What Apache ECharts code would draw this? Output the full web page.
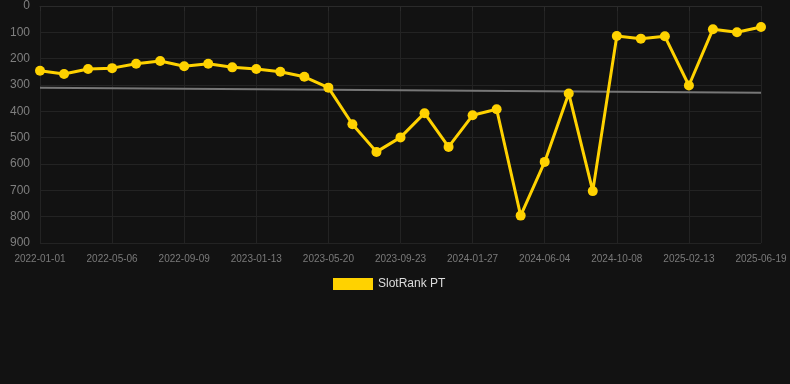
<!DOCTYPE html>
<html><head><meta charset="utf-8">
<script src="https://cdn.jsdelivr.net/npm/echarts@6/dist/echarts.min.js"></script>
<style>html,body{margin:0;padding:0;background:#121212;}#c{width:790px;height:384px;}</style>
</head><body><div id="c"></div>
<script>
const categories = ["2022-01-01","2022-02-12","2022-03-25","2022-05-06","2022-06-16","2022-07-28","2022-09-09","2022-10-21","2022-12-02","2023-01-13","2023-02-24","2023-04-07","2023-05-20","2023-07-01","2023-08-12","2023-09-23","2023-11-04","2023-12-16","2024-01-27","2024-03-09","2024-04-22","2024-06-04","2024-07-16","2024-08-27","2024-10-08","2024-11-19","2025-01-01","2025-02-13","2025-03-27","2025-05-08","2025-06-19"];
const rankValues = [246,258,239,236,219,209,229,219,233,239,250,269,310,449,554,499,407,535,415,392,796,592,332,703,114,124,115,302,88,100,80];
const trendLine = [310,329];
const yTicks = [0,100,200,300,400,500,600,700,800,900];

const chart = echarts.init(document.getElementById('c'));
chart.setOption({
  backgroundColor:'#121212',
  animation:false,
  grid:{left:40,right:29,top:6,bottom:141},
  legend:{top:273,left:328,itemWidth:40,itemHeight:12,itemGap:6,
    textStyle:{color:'#dddddd',fontSize:12,fontFamily:'Arial, Liberation Sans, sans-serif'},
    data:[{name:'SlotRank PT',icon:'rect',itemStyle:{color:'#FFD200'}}]},
  xAxis:{type:'category',data:categories,boundaryGap:false,
    axisLine:{show:true,lineStyle:{color:'#2a2a2a'}},
    axisTick:{show:true,interval:2,lineStyle:{color:'#2a2a2a'}},
    axisLabel:{interval:2,color:'#7a7a7a',fontSize:10,margin:11,fontFamily:'Arial, Liberation Sans, sans-serif'},
    splitLine:{show:true,interval:2,lineStyle:{color:'#232323'}}},
  yAxis:{type:'value',inverse:true,min:yTicks[0],max:yTicks[yTicks.length-1],interval:100,
    axisLine:{show:false},axisTick:{show:false},
    axisLabel:{color:'#7f7f7f',fontSize:12,margin:10,fontFamily:'Arial, Liberation Sans, sans-serif'},
    splitLine:{show:true,lineStyle:{color:'#232323'}}},
  series:[
    {name:'SlotRank PT',type:'line',data:rankValues,symbol:'circle',symbolSize:10,
      lineStyle:{color:'#FFD200',width:3},itemStyle:{color:'#FFD200'},z:3},
    {name:'trend',type:'line',data:[[categories[0],trendLine[0]],[categories[categories.length-1],trendLine[1]]],
      symbol:'none',lineStyle:{color:'#777777',width:2},z:2,silent:true}
  ]
});
</script></body></html>
